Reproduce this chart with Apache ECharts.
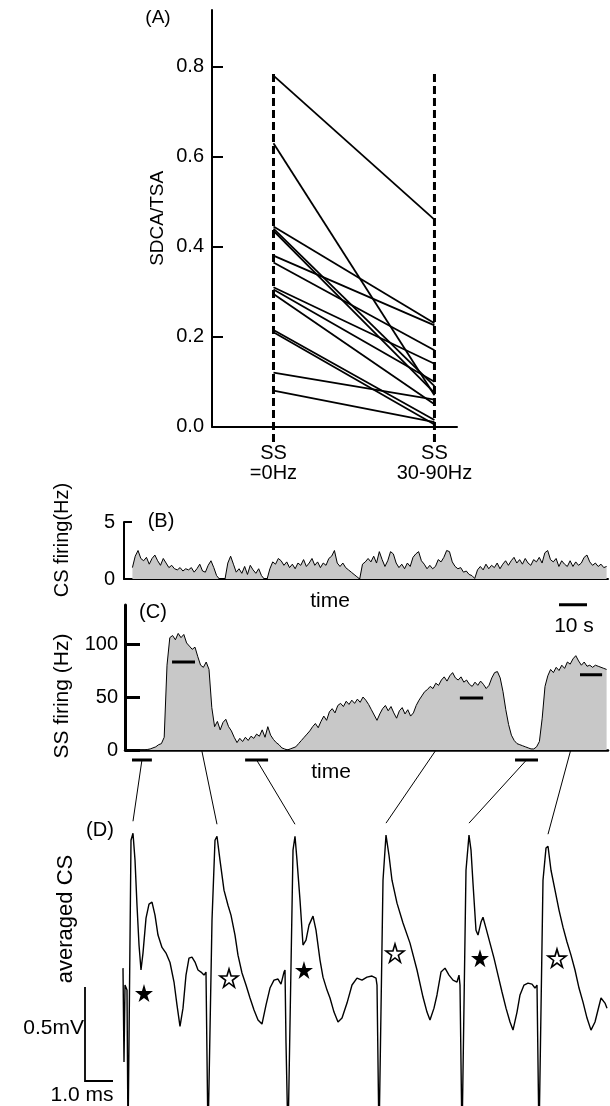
<!DOCTYPE html>
<html><head><meta charset="utf-8">
<script src="https://cdn.jsdelivr.net/npm/echarts@6/dist/echarts.min.js"></script>
<style>html,body{margin:0;padding:0;background:#fff;}#c{width:610px;height:1106px;}</style>
</head><body><div id="c"></div>
<script>
// ---------- Panel A: SDCA/TSA per cell ----------
const conditions = ['SS\n=0Hz', 'SS\n30-90Hz'];
const sdcaAt0Hz   = [0.78, 0.63, 0.445, 0.44, 0.435, 0.38, 0.365, 0.31, 0.305, 0.295, 0.215, 0.21, 0.12, 0.08];
const sdcaAt3090  = [0.46, 0.07, 0.23, 0.09, 0.075, 0.225, 0.17, 0.14, 0.10, 0.05, 0.015, 0.005, 0.06, 0.01];
const sdcaTicks   = [0, 0.2, 0.4, 0.6, 0.8];

// ---------- Panel B: CS firing (Hz), 1 s bins ----------
const csStart = 3, binWidth = 1;
const csRate = [
 1.0,2.0,2.5,1.8,1.6,1.9,1.3,1.8,2.1,1.6,1.2,1.8,1.4,1.0,1.2,0.9,0.8,1.0,0.7,0.9,0.8,1.0,0.6,0.9,1.3,0.7,0.6,1.2,1.6,1.0,0.3,
 0,0,0,
 1.4,2.0,1.3,0.6,0.9,0.5,1.1,0.4,1.2,0.8,0.5,0.9,0.3,
 0,0,
 0.9,1.5,1.3,1.8,1.6,1.2,1.5,1.0,1.3,0.9,1.4,1.2,1.7,1.1,1.4,1.8,1.2,1.5,1.0,1.4,1.2,1.8,2.0,2.5,1.4,1.1,1.4,1.0,0.8,0.6,0.4,0.2,
 0,
 1.3,1.5,1.8,1.5,2.0,1.4,2.4,1.7,1.1,1.6,2.4,2.2,1.4,1.0,1.3,0.9,1.4,1.1,1.9,2.2,2.4,1.6,1.3,0.9,1.2,0.9,1.1,1.7,1.5,1.9,2.5,2.4,1.5,1.1,0.9,1.0,0.6,0.7,0.4,0.3,
 0.05,
 0.8,1.1,0.8,1.3,0.9,1.2,1.0,1.4,0.9,1.3,1.6,1.2,1.6,1.9,1.4,1.7,1.3,1.8,1.4,1.2,1.7,1.5,1.9,1.4,2.3,2.5,1.7,1.5,1.8,1.1,1.6,1.3,1.1,1.6,1.1,1.5,1.2,1.4,1.9,2.1,1.5,1.2,1.4,1.1,1.3,1.0,1.1
];
const csTicks = [0, 5];

// ---------- Panel C: SS firing (Hz), 1 s bins ----------
const ssStart = 0;
const ssRate = [
 0,0,0,0,0,0,0,0,0.5,1,2,3,5,6,12,80,106,108,104,110,106,109,101,98,95,97,88,80,78,83,76,40,
 22,27,19,26,29,22,18,12,7,11,8,12,9,13,11,15,13,19,12,22,14,10,7,5,2,1,0,1,2,3,6,9,12,15,18,22,
 25,21,27,32,28,36,39,35,42,44,41,46,43,47,44,48,45,50,47,43,38,33,28,34,39,42,37,41,35,30,37,40,
 34,38,32,35,42,47,51,55,57,60,58,63,61,66,69,65,70,73,68,66,69,64,66,62,60,64,61,65,62,58,61,68,
 73,74,68,55,38,24,14,9,6,5,4,3,2,1,1,3,8,30,60,70,76,73,78,75,80,77,83,81,86,89,84,80,83,79,80,
 78,80,79,78,77,76
];
const ssTicks = [0, 50, 100];
// analysis windows [start s, end s, mean SS rate Hz]
const ssWindows = [[2.5, 9.6, 0], [16.8, 25.0, 83], [42.9, 51.1, 0], [119.6, 127.9, 49], [139.3, 147.5, 0], [162.5, 170.4, 71]];
const timeScaleBar = 10; // s

// ---------- Panel D: averaged CS waveforms [ms, mV] ----------
const cs1 = [[0.107,0.170],[0.143,-0.330],[0.179,0.080],[0.25,0.053],[0.286,-0.745],[0.393,0.851],[0.464,0.888],[0.536,0.745],[0.607,0.505],[0.679,0.293],[0.75,0.160],[0.821,0.250],[0.929,0.436],[1.036,0.511],[1.143,0.521],[1.25,0.452],[1.357,0.346],[1.5,0.280],[1.643,0.250],[1.786,0.200],[1.929,0.096],[2.036,-0.027],[2.143,-0.140],[2.25,-0.043],[2.357,0.133],[2.464,0.223],[2.571,0.229],[2.679,0.202],[2.786,0.160],[2.893,0.149],[3.0,0.133]];
const cs2 = [[3.071,0.149],[3.143,-0.745],[3.286,0.426],[3.393,0.851],[3.464,0.872],[3.571,0.745],[3.714,0.585],[3.857,0.505],[3.964,0.452],[4.107,0.346],[4.214,0.239],[4.357,0.144],[4.5,0.080],[4.643,0.011],[4.786,-0.053],[4.929,-0.106],[5.071,-0.128],[5.214,-0.027],[5.357,0.064],[5.5,0.106],[5.643,0.112],[5.75,0.085],[5.857,0.149]];
const cs3 = [[5.893,0.160],[5.929,-0.229],[6.0,-0.745],[6.179,0.798],[6.25,0.872],[6.321,0.745],[6.429,0.532],[6.536,0.293],[6.643,0.319],[6.75,0.399],[6.893,0.447],[7.0,0.372],[7.143,0.213],[7.25,0.122],[7.393,0.053],[7.5,0.011],[7.643,-0.064],[7.786,-0.117],[7.929,-0.096],[8.107,-0.016],[8.286,0.080],[8.464,0.117],[8.643,0.106],[8.821,0.122],[9.0,0.128],[9.143,0.117]];
const cs4 = [[9.179,0.080],[9.25,-0.745],[9.393,0.638],[9.5,0.878],[9.607,0.771],[9.714,0.638],[9.893,0.516],[10.107,0.410],[10.357,0.303],[10.607,0.160],[10.821,0.016],[10.964,-0.064],[11.071,-0.106],[11.214,-0.043],[11.321,0.027],[11.464,0.149],[11.607,0.170],[11.75,0.133],[11.893,0.106],[12.036,0.096],[12.107,0.133]];
const cs5 = [[12.143,0.080],[12.214,-0.745],[12.357,0.691],[12.464,0.878],[12.536,0.798],[12.607,0.622],[12.714,0.372],[12.786,0.346],[12.893,0.415],[12.964,0.441],[13.071,0.383],[13.214,0.303],[13.357,0.223],[13.5,0.133],[13.643,0.043],[13.786,-0.043],[13.929,-0.117],[14.036,-0.160],[14.179,-0.064],[14.286,0.027],[14.429,0.080],[14.571,0.090],[14.714,0.085],[14.821,0.064]];
const cs6 = [[14.893,0.080],[14.964,-0.745],[15.107,0.638],[15.214,0.809],[15.286,0.819],[15.393,0.691],[15.536,0.585],[15.679,0.479],[15.821,0.388],[15.964,0.309],[16.107,0.239],[16.25,0.160],[16.393,0.064],[16.536,-0.011],[16.679,-0.096],[16.821,-0.160],[16.964,-0.117],[17.071,-0.053],[17.179,0.011],[17.25,0.021],[17.321,-0.016],[17.393,-0.043]];
const csWaves = [cs1, cs2, cs3, cs4, cs5, cs6];
const filledStars = [[0.857,0.037],[6.571,0.160],[12.857,0.223]];
const hollowStars = [[3.893,0.117],[9.821,0.250],[15.607,0.223]];
const scaleMs = 1.0, scaleMv = 0.5;

// ---------- styling ----------
const FONT = "'Liberation Sans', Arial, Helvetica, sans-serif";
const BLK = '#000';
const FILL = '#c8c8c8';
const txt = {color: BLK, fontFamily: FONT, fontSize: 20};
const belowAxis = -9.4;            // Hz, where zero-rate windows are drawn
const starPath = 'path://M50,0 L61,35 L98,35 L68,57 L79,91 L50,70 L21,91 L32,57 L2,35 L39,35 Z';

const chart = echarts.init(document.getElementById('c'), null, {renderer: 'canvas'});

const series = [];
// A: paired lines
sdcaAt0Hz.forEach((v, i) => {
  series.push({type: 'line', xAxisIndex: 0, yAxisIndex: 0, symbol: 'none', silent: true,
    lineStyle: {color: BLK, width: 1.8}, data: [[1, v], [2, sdcaAt3090[i]]]});
});
// A: dashed guides at each condition
const guideExtent = [-0.034, 0.79];
[1, 2].forEach(c => series.push({type: 'line', xAxisIndex: 0, yAxisIndex: 0, symbol: 'none', clip: false, silent: true,
  lineStyle: {color: BLK, width: 3, type: [8, 4]}, data: [[c, guideExtent[0]], [c, guideExtent[1]]]}));
// B
series.push({type: 'line', xAxisIndex: 1, yAxisIndex: 1, symbol: 'none', silent: true,
  lineStyle: {color: BLK, width: 1}, areaStyle: {color: FILL, opacity: 1},
  data: csRate.map((v, i) => [csStart + i * binWidth, v])});
// C
series.push({type: 'line', xAxisIndex: 2, yAxisIndex: 2, symbol: 'none', silent: true,
  lineStyle: {color: BLK, width: 1}, areaStyle: {color: FILL, opacity: 1},
  data: ssRate.map((v, i) => [ssStart + i * binWidth, v])});
// C: windows
ssWindows.forEach(w => {
  const y = w[2] > 0 ? w[2] : belowAxis;
  series.push({type: 'line', xAxisIndex: 2, yAxisIndex: 2, symbol: 'none', clip: false, silent: true, z: 5,
    lineStyle: {color: BLK, width: 3}, data: [[w[0], y], [w[1], y]]});
});
// C: 10 s scale bar
series.push({type: 'line', xAxisIndex: 2, yAxisIndex: 2, symbol: 'none', clip: false, silent: true,
  lineStyle: {color: BLK, width: 3}, data: [[155, 137], [155 + timeScaleBar, 137]]});
// D: waveforms
series.push({type: 'line', xAxisIndex: 3, yAxisIndex: 3, symbol: 'none', silent: true, clip: true,
  lineStyle: {color: BLK, width: 1.4}, data: [].concat(...csWaves)});
series.push({type: 'scatter', xAxisIndex: 3, yAxisIndex: 3, symbol: starPath, symbolSize: 18, silent: true, z: 6,
  itemStyle: {color: BLK, opacity: 1}, data: filledStars});
series.push({type: 'scatter', xAxisIndex: 3, yAxisIndex: 3, symbol: starPath, symbolSize: 18, silent: true, z: 6,
  itemStyle: {color: '#fff', opacity: 1, borderColor: BLK, borderWidth: 1.6}, data: hollowStars});

const hidden = {show: false};
chart.setOption({
  animation: false,
  backgroundColor: '#fff',
  grid: [
    {left: 212, width: 245, top: 10, bottom: 679.3},
    {left: 124, right: 2, top: 522, bottom: 527},
    {left: 125, right: 2, top: 605, bottom: 356},
    {left: 120, right: 0, top: 831, bottom: 0}
  ],
  xAxis: [
    {gridIndex: 0, type: 'value', min: 0.618, max: 2.14,
      axisLine: {lineStyle: {color: BLK, width: 2}}, axisTick: hidden, splitLine: hidden,
      axisLabel: {customValues: [1, 2], formatter: v => conditions[Math.round(v) - 1], margin: 17, lineHeight: 20, ...txt}},
    {gridIndex: 1, type: 'value', min: 0, max: 172.5,
      axisLine: {onZero: false, lineStyle: {color: BLK, width: 2}}, axisTick: hidden, axisLabel: hidden, splitLine: hidden},
    {gridIndex: 2, type: 'value', min: 0, max: 172.5,
      axisLine: {onZero: false, lineStyle: {color: BLK, width: 2.5}}, axisTick: hidden, axisLabel: hidden, splitLine: hidden},
    {gridIndex: 3, type: 'value', min: 0, max: 17.5, show: false}
  ],
  yAxis: [
    {gridIndex: 0, type: 'value', min: 0, max: 0.926,
      axisLine: {show: true, lineStyle: {color: BLK, width: 2}},
      axisTick: {show: true, inside: true, length: 11, customValues: sdcaTicks, lineStyle: {color: BLK, width: 2}},
      axisLabel: {customValues: sdcaTicks, formatter: v => v.toFixed(1), margin: 8, ...txt},
      splitLine: hidden, name: 'SDCA/TSA', nameLocation: 'middle', nameGap: 45, nameTextStyle: {...txt, fontSize: 19}},
    {gridIndex: 1, type: 'value', min: 0, max: 5,
      axisLine: {show: true, lineStyle: {color: BLK, width: 2}},
      axisTick: {show: true, inside: true, length: 8, customValues: csTicks, lineStyle: {color: BLK, width: 2}},
      axisLabel: {customValues: csTicks, margin: 9, ...txt}, splitLine: hidden},
    {gridIndex: 2, type: 'value', min: 0, max: 136.8,
      axisLine: {show: true, lineStyle: {color: BLK, width: 3}},
      axisTick: {show: true, inside: true, length: 15, customValues: ssTicks, lineStyle: {color: BLK, width: 3}},
      axisLabel: {customValues: ssTicks, margin: 7, ...txt}, splitLine: hidden},
    {gridIndex: 3, type: 'value', min: -0.564, max: 0.9, show: false}
  ],
  series: series
});

// connectors from analysis windows (C) to averaged waveforms (D), scale bars and text labels
const gfx = [];
ssWindows.forEach((w, k) => {
  const y = w[2] > 0 ? w[2] : belowAxis;
  const p0 = chart.convertToPixel({xAxisIndex: 2, yAxisIndex: 2}, [(w[0] + w[1]) / 2, y]);
  const wave = csWaves[k];
  let pk = wave[0];
  wave.forEach(p => { if (p[1] > pk[1]) pk = p; });
  const p1 = chart.convertToPixel({xAxisIndex: 3, yAxisIndex: 3}, pk);
  gfx.push({type: 'line', silent: true, shape: {x1: p0[0], y1: p0[1], x2: p1[0], y2: p1[1] - 12},
    style: {stroke: BLK, lineWidth: 1}});
});
// D scale bars (0.5 mV, 1.0 ms) through the D axes
const sbOrigin = [-1.25, -0.431];
const sbA = chart.convertToPixel({xAxisIndex: 3, yAxisIndex: 3}, [sbOrigin[0], sbOrigin[1] + scaleMv]);
const sbB = chart.convertToPixel({xAxisIndex: 3, yAxisIndex: 3}, sbOrigin);
const sbC = chart.convertToPixel({xAxisIndex: 3, yAxisIndex: 3}, [sbOrigin[0] + scaleMs, sbOrigin[1]]);
gfx.push({type: 'polyline', silent: true, shape: {points: [sbA, sbB, sbC]}, style: {stroke: BLK, lineWidth: 1.8, fill: null}});

const label = (text, x, y, size, opt) => gfx.push(Object.assign({type: 'text', x: x, y: y, silent: true},
  opt && opt.rot ? {rotation: Math.PI / 2} : {},
  {style: Object.assign({text: text, fill: BLK, font: size + 'px ' + FONT, align: 'center', verticalAlign: 'middle'}, (opt && opt.style) || {})}));
label('(A)', 158, 18, 19);
label('(B)', 161, 521, 20);
label('(C)', 153, 612, 20);
label('(D)', 100, 830, 20);
label('time', 330, 601, 21);
label('time', 331, 772, 21);
label('10 s', 574, 626, 21);
label('0.5mV', 84, 1028, 21, {style: {align: 'right'}});
label('1.0 ms', 82, 1095, 21);
label('averaged CS', 66, 919, 22, {rot: true});
label('CS firing(Hz)', 62, 540, 20, {rot: true});
label('SS firing (Hz)', 62, 696, 21, {rot: true});
chart.setOption({graphic: gfx});
</script></body></html>
